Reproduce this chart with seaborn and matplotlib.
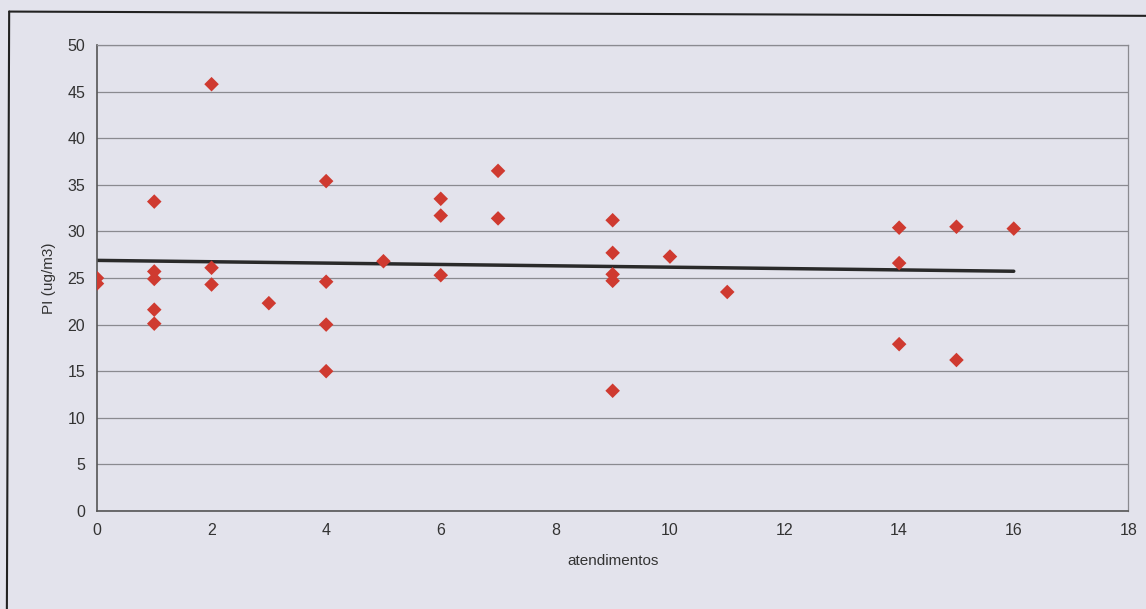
import matplotlib
matplotlib.use("Agg")
import matplotlib.pyplot as plt
import seaborn as sns
import pandas as pd
from matplotlib.lines import Line2D

# atendimentos vs PI
atendimentos = [0, 0,
                1, 1, 1, 1, 1,
                2, 2, 2,
                3,
                4, 4, 4, 4,
                5,
                6, 6, 6,
                7, 7,
                9, 9, 9, 9, 9,
                10,
                11,
                14, 14, 14,
                15, 15,
                16]
pi_values = [25.0, 24.4,
             33.2, 25.7, 24.9, 21.6, 20.1,
             45.8, 26.1, 24.3,
             22.3,
             35.4, 24.6, 20.0, 15.0,
             26.8,
             33.5, 31.7, 25.3,
             36.5, 31.4,
             31.2, 27.7, 25.4, 24.7, 12.9,
             27.3,
             23.5,
             30.4, 26.6, 17.9,
             30.5, 16.2,
             30.3]

x_ticks = list(range(0, 19, 2))
y_ticks = list(range(0, 51, 5))

df = pd.DataFrame({"atendimentos": atendimentos, "PI": pi_values})

bg = "#e3e3ec"
sns.set_style("white")
plt.rcParams["font.family"] = ["Liberation Sans", "DejaVu Sans"]

fig = plt.figure(figsize=(11.46, 6.09), dpi=100, facecolor=bg)
ax = fig.add_axes([0.0846, 0.161, 0.9, 0.765])
ax.set_facecolor(bg)

# trend line (linear fit)
sns.regplot(data=df, x="atendimentos", y="PI", ax=ax, ci=None,
            scatter=False, line_kws={"color": "#2a2a2a", "lw": 2.5})
sns.scatterplot(data=df, x="atendimentos", y="PI", ax=ax, marker="D",
                color="#cf3a30", s=55, edgecolor="none", zorder=3)

ax.set_xlim(0, 18)
ax.set_ylim(0, 50)
ax.set_xticks(x_ticks)
ax.set_yticks(y_ticks)
ax.yaxis.grid(True, color="#8a8a90", lw=0.9)
ax.set_axisbelow(True)
for side in ["left", "bottom"]:
    ax.spines[side].set_color("#555555")
    ax.spines[side].set_linewidth(1.2)
for side in ["top", "right"]:
    ax.spines[side].set_color("#8a8a90")
    ax.spines[side].set_linewidth(0.9)
ax.tick_params(axis="both", labelsize=11.5, color="#555555", length=5,
               direction="out", labelcolor="#333333")
ax.set_xlabel("atendimentos", fontsize=11, color="#333333", labelpad=12)
ax.set_ylabel("PI (ug/m3)", fontsize=11, color="#333333", labelpad=8)

# scanned page frame: only top and left edges visible
fig.add_artist(Line2D([0.008, 1.0], [0.981, 0.974], transform=fig.transFigure,
                      color="#222222", lw=1.5))
fig.add_artist(Line2D([0.008, 0.006], [0.981, 0.0], transform=fig.transFigure,
                      color="#222222", lw=1.5))

fig.savefig("out.png", dpi=100, facecolor=bg)
